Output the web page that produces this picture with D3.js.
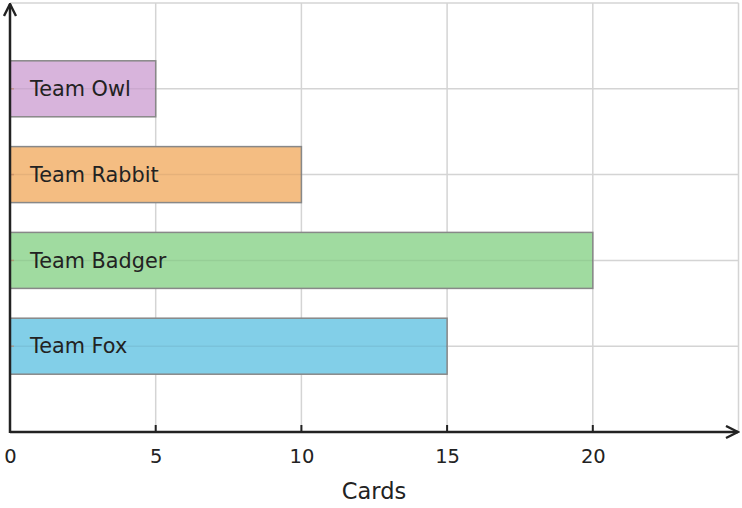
<!DOCTYPE html>
<html>
<head>
<meta charset="utf-8">
<script src="https://cdn.jsdelivr.net/npm/d3@7"></script>
<style>
  body { margin: 0; background: #fff; }
  text { font-family: "DejaVu Sans", sans-serif; fill: #222; }
</style>
</head>
<body>
<div id="chart"></div>
<script>
// Chart data
const teams = ['Team Fox', 'Team Badger', 'Team Rabbit', 'Team Owl'];
const cards = [15, 20, 10, 5];
const colors = ['#82cfe8', '#a0dba0', '#f4bd82', '#d8b4dc'];
const xTicks = [0, 5, 10, 15, 20];

const width = 742, height = 508;
const svg = d3.select('#chart').append('svg').attr('width', width).attr('height', height);

// Scales: categories sit at 1..4 on a 0..5 axis
const x = d3.scaleLinear().domain([0, 25]).range([10, 738.5]);
const y = d3.scaleLinear().domain([0, 5]).range([432, 3]);
const barH = 56;

// Grid lines
const grid = svg.append('g').attr('stroke', '#d4d4d4').attr('stroke-width', 1.5);
grid.selectAll('.gx').data([5, 10, 15, 20, 25]).join('line')
  .attr('x1', d => x(d)).attr('x2', d => x(d))
  .attr('y1', y(5)).attr('y2', y(0));
grid.selectAll('.gy').data([1, 2, 3, 4, 5]).join('line')
  .attr('y1', d => y(d)).attr('y2', d => y(d))
  .attr('x1', x(0)).attr('x2', x(25));

// Bars
const bars = svg.append('g');
bars.selectAll('rect').data(teams).join('rect')
  .attr('x', x(0))
  .attr('y', (d, i) => y(i + 1) - barH / 2)
  .attr('width', (d, i) => x(cards[i]) - x(0))
  .attr('height', barH)
  .attr('fill', (d, i) => colors[i])
  .attr('stroke', '#888')
  .attr('stroke-width', 1.5);

// faint grid line through the bars
bars.selectAll('line').data(teams).join('line')
  .attr('x1', x(0)).attr('x2', (d, i) => x(cards[i]))
  .attr('y1', (d, i) => y(i + 1)).attr('y2', (d, i) => y(i + 1))
  .attr('stroke', '#000').attr('stroke-opacity', 0.06).attr('stroke-width', 1.5);

bars.selectAll('text').data(teams).join('text')
  .attr('x', 30)
  .attr('y', (d, i) => y(i + 1))
  .attr('dy', '0.35em')
  .style('font-size', '20.8px')
  .text(d => d);

// Axes
const axisColor = '#222';
const xAxis = d3.axisBottom(x).tickValues(xTicks).tickSize(0).tickPadding(17);
const xg = svg.append('g').attr('transform', `translate(0,${y(0)})`).call(xAxis);
xg.select('.domain').remove();
xg.selectAll('text').style('font-size', '19.5px').attr('fill', '#222');

// small inward ticks
svg.append('g').selectAll('line').data(xTicks.slice(1)).join('line')
  .attr('x1', d => x(d)).attr('x2', d => x(d))
  .attr('y1', y(0)).attr('y2', y(0) - 7)
  .attr('stroke', axisColor).attr('stroke-width', 2);
svg.append('g').selectAll('line').data([1, 2, 3, 4]).join('line')
  .attr('x1', x(0)).attr('x2', x(0) + 4)
  .attr('y1', d => y(d)).attr('y2', d => y(d))
  .attr('stroke', '#c08060').attr('stroke-opacity', 0.6).attr('stroke-width', 1.5);

// axis lines with arrows
svg.append('defs').append('marker')
  .attr('id', 'arrow').attr('viewBox', '0 0 10 10').attr('refX', 9).attr('refY', 5)
  .attr('markerWidth', 6).attr('markerHeight', 6).attr('orient', 'auto')
  .append('path').attr('d', 'M1,1 L9,5 L1,9').attr('fill', 'none')
  .attr('stroke', axisColor).attr('stroke-width', 1.6);

svg.append('line')
  .attr('x1', x(0)).attr('x2', 738).attr('y1', y(0)).attr('y2', y(0))
  .attr('stroke', axisColor).attr('stroke-width', 2.5).attr('marker-end', 'url(#arrow)');
svg.append('line')
  .attr('x1', x(0)).attr('x2', x(0)).attr('y1', y(0) + 1).attr('y2', 4)
  .attr('stroke', axisColor).attr('stroke-width', 2.5).attr('marker-end', 'url(#arrow)');

// Axis title
svg.append('text')
  .attr('x', 374).attr('y', 499)
  .attr('text-anchor', 'middle')
  .style('font-size', '22.5px')
  .text('Cards');
</script>
</body>
</html>
